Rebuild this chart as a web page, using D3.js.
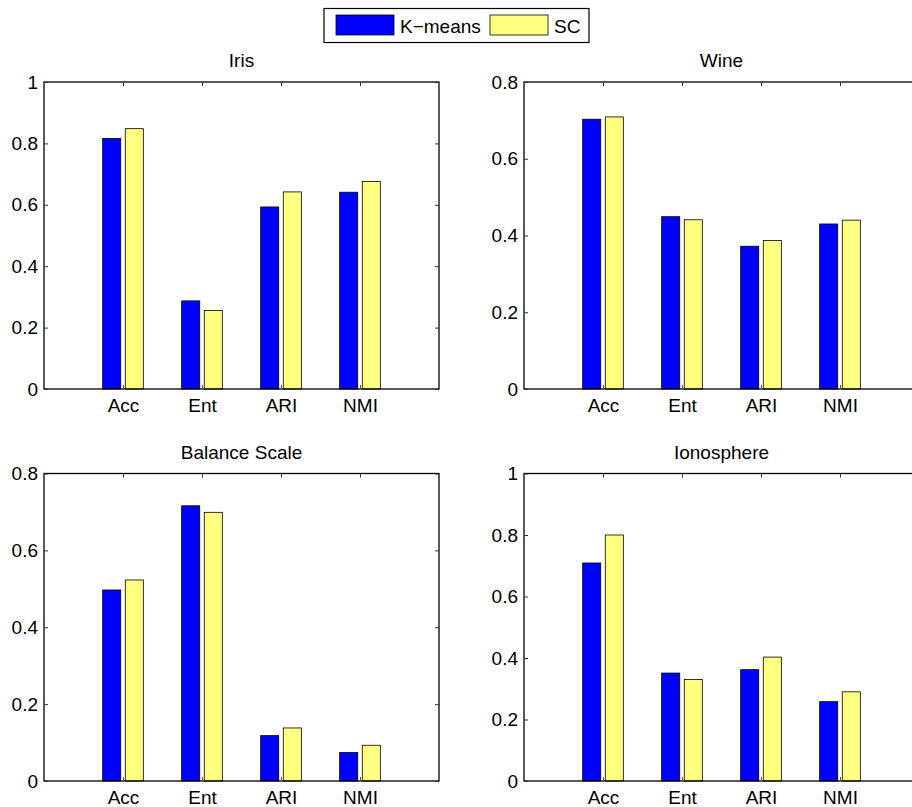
<!DOCTYPE html>
<html><head><meta charset="utf-8">
<script src="https://cdn.jsdelivr.net/npm/d3@7"></script>
<style>body{margin:0;background:#fff}text{font-family:"Liberation Sans",Arial,sans-serif;fill:#000}</style>
</head><body><svg id="c" width="912" height="807"></svg>
<script>
const categories = ["Acc","Ent","ARI","NMI"];
const seriesNames = ["K\u2212means","SC"];
const seriesColors = ["#0000ff","#ffff80"];
const titles = ["Iris","Wine","Balance Scale","Ionosphere"];
const kmeans = [
  [0.816,0.287,0.593,0.641],
  [0.703,0.449,0.372,0.430],
  [0.497,0.716,0.118,0.074],
  [0.709,0.351,0.362,0.258]
];
const sc = [
  [0.848,0.256,0.642,0.676],
  [0.709,0.441,0.387,0.440],
  [0.523,0.699,0.138,0.093],
  [0.800,0.330,0.403,0.290]
];
const yMax = [1,0.8,0.8,1];
const yTicks = [[0,0.2,0.4,0.6,0.8,1],[0,0.2,0.4,0.6,0.8],[0,0.2,0.4,0.6,0.8],[0,0.2,0.4,0.6,0.8,1]];

const FS = 19;
const svg = d3.select("#c");
const panels = [
  {x:44,y:82,w:395,h:307},
  {x:524,y:82,w:395,h:307},
  {x:44,y:473.5,w:395,h:307.5},
  {x:524,y:473.5,w:395,h:307.5}
];
panels.forEach((p,i)=>{
  const g = svg.append("g").attr("transform",`translate(${p.x},${p.y})`);
  const x = d3.scaleLinear().domain([0,5]).range([0,p.w]);
  const y = d3.scaleLinear().domain([0,yMax[i]]).range([p.h,0]);
  const bw = x(0.2286)-x(0);
  const off = [-0.143,0.143];
  [kmeans[i],sc[i]].forEach((vals,s)=>{
    g.selectAll(null).data(vals).enter().append("rect")
      .attr("x",(d,k)=>x(k+1+off[s])-bw/2)
      .attr("y",d=>y(d)).attr("width",bw).attr("height",d=>y(0)-y(d))
      .attr("fill",seriesColors[s]).attr("stroke","#000").attr("stroke-width",0.8);
  });
  g.append("rect").attr("width",p.w).attr("height",p.h).attr("fill","none").attr("stroke","#000").attr("stroke-width",1.3);
  const ya = d3.axisLeft(y).tickValues(yTicks[i]).tickSizeInner(-4).tickSizeOuter(0).tickPadding(6).tickFormat(d3.format("~g"));
  const yg = g.append("g").call(ya);
  yg.select(".domain").remove();
  yg.selectAll("text").attr("font-size",FS).attr("font-family","Liberation Sans, Arial, sans-serif");
  yg.selectAll("line").attr("stroke","#333");
  const yr = g.append("g").attr("transform",`translate(${p.w},0)`).call(d3.axisRight(y).tickValues(yTicks[i]).tickSizeInner(-4).tickSizeOuter(0).tickFormat(""));
  yr.select(".domain").remove(); yr.selectAll("line").attr("stroke","#333");
  const xt = categories.map((c,k)=>k+1);
  const xa = d3.axisBottom(x).tickValues(xt).tickSizeInner(-4).tickSizeOuter(0).tickPadding(9.5).tickFormat((d)=>categories[d-1]);
  const xg = g.append("g").attr("transform",`translate(0,${p.h})`).call(xa);
  xg.select(".domain").remove();
  xg.selectAll("text").attr("font-size",FS).attr("font-family","Liberation Sans, Arial, sans-serif");
  xg.selectAll("line").attr("stroke","#555");
  const xtop = g.append("g").call(d3.axisTop(x).tickValues(xt).tickSizeInner(-4).tickSizeOuter(0).tickFormat(""));
  xtop.select(".domain").remove(); xtop.selectAll("line").attr("stroke","#333");
  g.append("text").attr("x",p.w/2).attr("y",-15).attr("text-anchor","middle").attr("font-size",FS).text(titles[i]);
});
const lg = svg.append("g");
lg.append("rect").attr("x",324).attr("y",8.5).attr("width",265).attr("height",34).attr("fill","#fff").attr("stroke","#000").attr("stroke-width",1.2);
const lx = [336,490];
seriesNames.forEach((n,s)=>{
  lg.append("rect").attr("x",lx[s]).attr("y",15).attr("width",58).attr("height",20).attr("fill",seriesColors[s]).attr("stroke","#000").attr("stroke-width",0.8);
  lg.append("text").attr("x",lx[s]+64).attr("y",32.5).attr("font-size",FS).text(n);
});
</script></body></html>
